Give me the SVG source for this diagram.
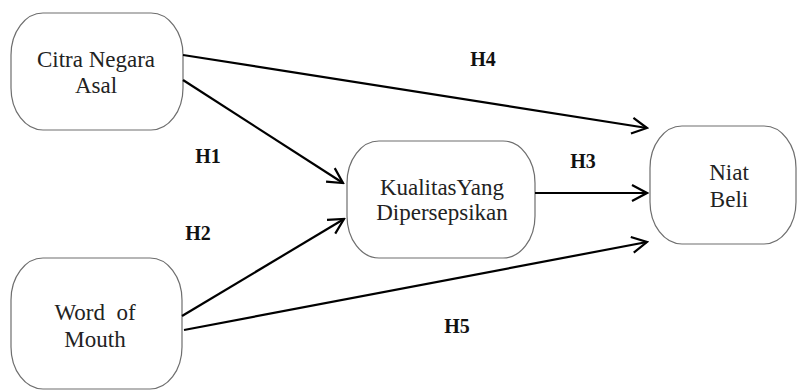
<svg xmlns="http://www.w3.org/2000/svg" width="798" height="390" viewBox="0 0 798 390">
<defs>
<style>
.node rect{fill:#fff;stroke:#6e6e6e;stroke-width:1.2}
.node text{font-family:"Liberation Serif","DejaVu Serif",serif;font-size:23px;fill:#222;text-anchor:middle}
.edges line{stroke:#000;stroke-width:2.2;marker-end:url(#arr)}
.lbl{font-family:"Liberation Serif","DejaVu Serif",serif;font-size:20px;font-weight:bold;fill:#111;text-anchor:middle}
</style>
<marker id="arr" markerUnits="userSpaceOnUse" viewBox="-16 -10 18 20" refX="0" refY="0" markerWidth="18" markerHeight="20" orient="auto">
<path d="M-15,-8 L0,0 L-15,8" fill="none" stroke="#000" stroke-width="2.2"/>
</marker>
</defs>
<rect width="798" height="390" fill="#fff"/>
<g id="citra" class="node">
<rect x="11" y="13" width="172" height="117" rx="32" ry="42"/>
<text x="96" y="67">Citra Negara</text>
<text x="96" y="93">Asal</text>
</g>
<g id="kualitas" class="node">
<rect x="347" y="141" width="188" height="117" rx="32" ry="42"/>
<text x="442" y="195">KualitasYang</text>
<text x="442" y="220">Dipersepsikan</text>
</g>
<g id="niat" class="node">
<rect x="650" y="126" width="146" height="118" rx="32" ry="42"/>
<text x="729" y="180">Niat</text>
<text x="729" y="207">Beli</text>
</g>
<g id="wom" class="node">
<rect x="11" y="258" width="171" height="131" rx="32" ry="42"/>
<text x="95" y="320" xml:space="preserve">Word  of</text>
<text x="95" y="347">Mouth</text>
</g>
<g id="edges" class="edges">
<line x1="183" y1="55" x2="647" y2="128"/>
<line x1="183" y1="80" x2="343" y2="183"/>
<line x1="182" y1="316" x2="344" y2="219"/>
<line x1="535" y1="193" x2="647" y2="193"/>
<line x1="184" y1="330" x2="647" y2="242"/>
</g>
<g id="labels">
<text class="lbl" x="483" y="66">H4</text>
<text class="lbl" x="208" y="163">H1</text>
<text class="lbl" x="583" y="168">H3</text>
<text class="lbl" x="198" y="240">H2</text>
<text class="lbl" x="457" y="333">H5</text>
</g>
</svg>
